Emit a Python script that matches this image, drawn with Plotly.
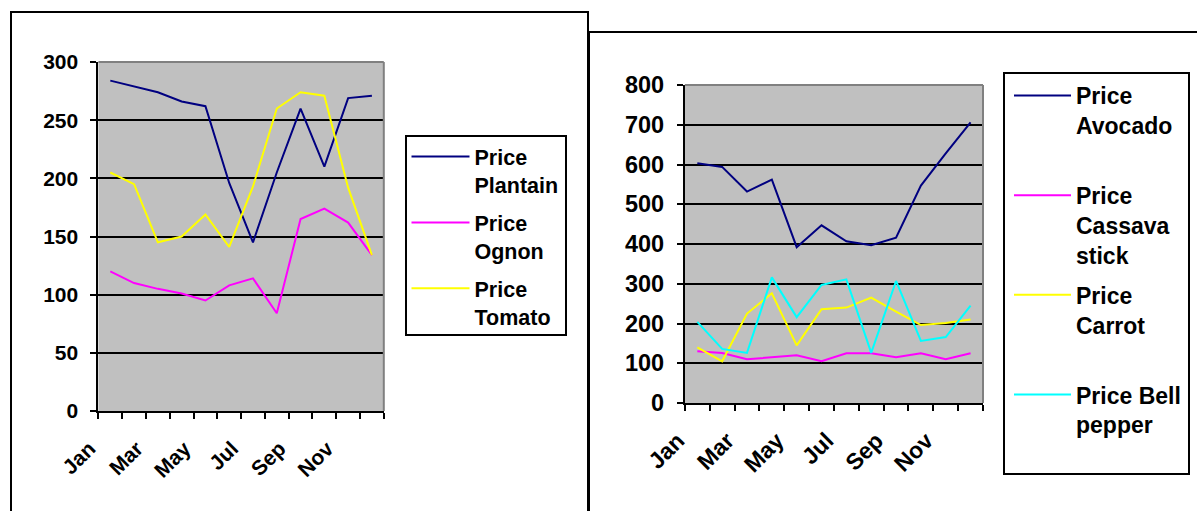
import plotly.graph_objects as go

# ---------------- data ----------------
months = ["Jan", "Feb", "Mar", "Apr", "May", "Jun", "Jul", "Aug", "Sep", "Oct", "Nov", "Dec"]

price_plantain = [284, 279, 274, 266, 262, 196, 145, 205, 260, 210, 269, 271]
price_ognon = [120, 110, 105, 101, 95, 108, 114, 84, 165, 174, 162, 134]
price_tomato = [205, 195, 145, 150, 169, 141, 193, 260, 274, 271, 192, 134]

price_avocado = [603, 594, 532, 562, 392, 447, 407, 397, 416, 547, 628, 706]
price_cassava = [130, 126, 110, 115, 120, 105, 125, 125, 115, 125, 110, 125]
price_carrot = [140, 105, 225, 276, 145, 236, 240, 265, 230, 196, 201, 210]
price_bell = [204, 136, 126, 316, 216, 297, 311, 126, 307, 156, 166, 245]

left_names = ["Price<br>Plantain", "Price<br>Ognon", "Price<br>Tomato"]
right_names = ["Price<br>Avocado<br> ", "Price<br>Cassava<br>stick", "Price<br>Carrot<br> ", "Price Bell<br>pepper<br> "]

NAVY, MAGENTA, YELLOW, CYAN = "#000080", "#FF00FF", "#FFFF00", "#00FFFF"

W, H = 1197, 511
FONT = "Liberation Sans, Arial, sans-serif"

# category centres on a numeric axis whose ticks sit on category boundaries
xpos = [i + 0.5 for i in range(len(months))]
tickvals = list(range(len(months) + 1))
ticktext = [months[i] if (i < len(months) and i % 2 == 0) else "" for i in tickvals]

fig = go.Figure()

for name, vals, col in zip(left_names, [price_plantain, price_ognon, price_tomato], [NAVY, MAGENTA, YELLOW]):
    fig.add_trace(go.Scatter(x=xpos, y=vals, mode="lines", name=name, legendgroup=name,
                             line=dict(color=col, width=2), xaxis="x", yaxis="y", legend="legend"))

for name, vals, col in zip(right_names, [price_avocado, price_cassava, price_carrot, price_bell],
                           [NAVY, MAGENTA, YELLOW, CYAN]):
    fig.add_trace(go.Scatter(x=xpos, y=vals, mode="lines", name=name, legendgroup=name,
                             line=dict(color=col, width=2), xaxis="x2", yaxis="y2", legend="legend2"))


def px(v):
    return v / W


def py(v):
    return 1 - v / H


def xaxis_cfg(domain, anchor, size, standoff, shift):
    return dict(domain=domain, anchor=anchor, range=[0, 12], tickmode="array", tickvals=tickvals,
                ticktext=ticktext, tickangle=-45, ticks="outside", ticklen=6, tickwidth=2, tickcolor="black",
                showline=True, linecolor="black", linewidth=2, showgrid=False, zeroline=False,
                ticklabelstandoff=standoff, ticklabelshift=shift, automargin=False,
                tickfont=dict(family=FONT, size=size, color="black", weight="bold"), fixedrange=True)


def yaxis_cfg(domain, anchor, rng, dtick, size, standoff):
    return dict(domain=domain, anchor=anchor, range=rng, dtick=dtick, ticks="outside", ticklen=6, tickwidth=2,
                tickcolor="black", showline=True, linecolor="black", linewidth=2,
                showgrid=True, gridcolor="black", gridwidth=2, zeroline=False,
                ticklabelstandoff=standoff, automargin=False,
                tickfont=dict(family=FONT, size=size, color="black", weight="bold"), fixedrange=True)


L = dict(x0=98.4, x1=383.8, y0=62, y1=411)
R = dict(x0=684.9, x1=983, y0=85, y1=403)

fig.update_layout(
    template="plotly",
    width=W, height=H, autosize=False,
    margin=dict(l=0, r=0, t=0, b=0, pad=0),
    paper_bgcolor="white", plot_bgcolor="#C0C0C0",
    xaxis=xaxis_cfg([px(L["x0"]), px(L["x1"])], "y", 21, 9, -9),
    yaxis=yaxis_cfg([py(L["y1"]), py(L["y0"])], "x", [0, 300], 50, 21, 8),
    xaxis2=xaxis_cfg([px(R["x0"]), px(R["x1"])], "y2", 23, 7, -7),
    yaxis2=yaxis_cfg([py(R["y1"]), py(R["y0"])], "x2", [0, 800], 100, 23.5, 8),
    legend=dict(x=px(406.5), y=py(136), xanchor="left", yanchor="top", bgcolor="rgba(0,0,0,0)",
                borderwidth=0, valign="top", tracegroupgap=7, itemwidth=58,
                font=dict(family=FONT, size=21.5, color="black", weight="bold")),
    legend2=dict(x=px(1009), y=py(74), xanchor="left", yanchor="top", bgcolor="rgba(0,0,0,0)",
                 borderwidth=0, valign="top", tracegroupgap=7, itemwidth=57,
                 font=dict(family=FONT, size=23, color="black", weight="bold")),
)

shapes = []
# outer chart frames
shapes.append(dict(type="rect", xref="paper", yref="paper", x0=px(11), x1=px(588), y0=py(560), y1=py(12),
                   line=dict(color="black", width=2), fillcolor="rgba(0,0,0,0)", layer="below"))
shapes.append(dict(type="line", xref="paper", yref="paper", x0=px(589), x1=px(1199), y0=py(32), y1=py(32),
                   line=dict(color="black", width=2)))
shapes.append(dict(type="line", xref="paper", yref="paper", x0=px(589), x1=px(589), y0=py(32), y1=py(560),
                   line=dict(color="black", width=2)))
# grey top/right borders of plot areas
for b in (L, R):
    shapes.append(dict(type="line", xref="paper", yref="paper", x0=px(b["x0"]), x1=px(b["x1"]),
                       y0=py(b["y0"]), y1=py(b["y0"]), line=dict(color="#808080", width=2)))
    shapes.append(dict(type="line", xref="paper", yref="paper", x0=px(b["x1"]), x1=px(b["x1"]),
                       y0=py(b["y0"]), y1=py(b["y1"]), line=dict(color="#808080", width=2)))
# legend boxes
shapes.append(dict(type="rect", xref="paper", yref="paper", x0=px(406), x1=px(566), y0=py(335), y1=py(136),
                   line=dict(color="black", width=2), fillcolor="white"))
shapes.append(dict(type="rect", xref="paper", yref="paper", x0=px(1004), x1=px(1189), y0=py(474), y1=py(73),
                   line=dict(color="black", width=2), fillcolor="white"))
fig.update_layout(shapes=shapes)

fig.write_html("out.html", config={"displayModeBar": False},
               post_script="document.body.style.margin='0';document.body.style.overflow='hidden';")
